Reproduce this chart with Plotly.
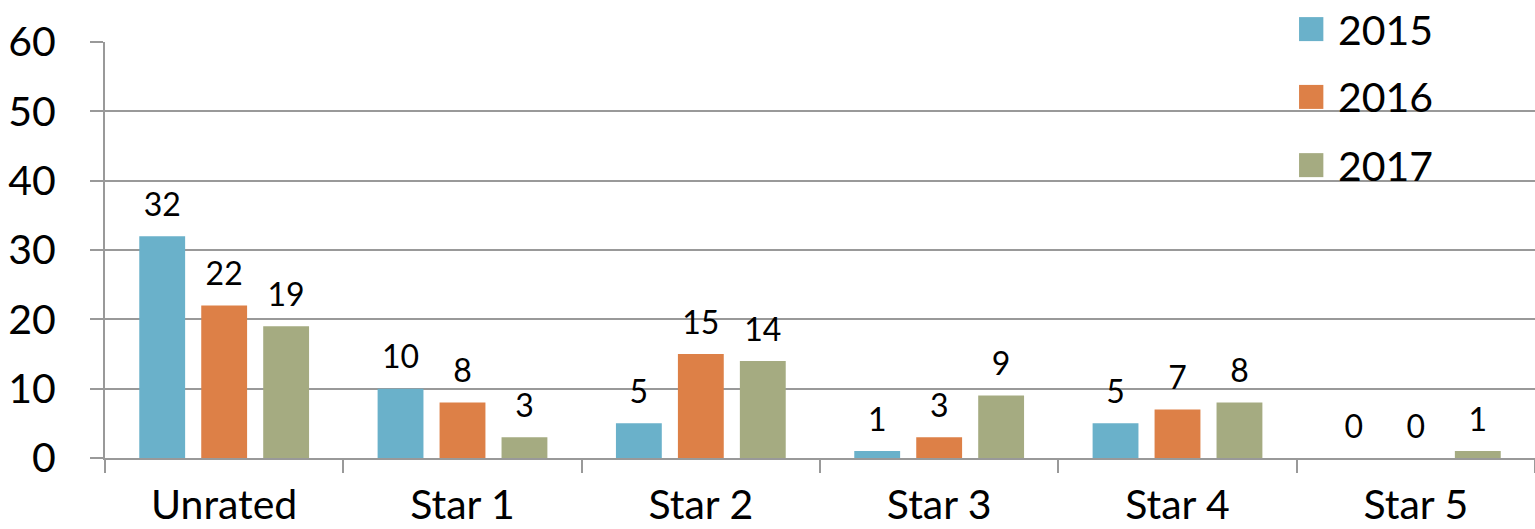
import plotly.graph_objects as go

# Ratings per category, by year
categories = ["Unrated", "Star 1", "Star 2", "Star 3", "Star 4", "Star 5"]
years = ["2015", "2016", "2017"]
values_2015 = [32, 10, 5, 1, 5, 0]
values_2016 = [22, 8, 15, 3, 7, 0]
values_2017 = [19, 3, 14, 9, 8, 1]
series = [values_2015, values_2016, values_2017]
colors = ["#6AB1CA", "#DD8047", "#A5AB81"]
y_ticks = [0, 10, 20, 30, 40, 50, 60]

FONT = "Lato, 'DejaVu Sans', sans-serif"
GRID = "#999999"

fig = go.Figure()

for name, vals, col in zip(years, series, colors):
    fig.add_trace(go.Bar(
        x=categories, y=vals, name=name,
        marker=dict(color=col, line=dict(width=0)),
        offsetgroup=name, alignmentgroup="g",
        showlegend=False, hoverinfo="skip",
    ))

# value labels above each bar, aligned with the bar groups
for name, vals in zip(years, series):
    fig.add_trace(go.Scatter(
        x=categories, y=vals, mode="markers+text",
        text=[str(v) for v in vals], textposition="top center",
        textfont=dict(size=32, color="#000000", family=FONT),
        marker=dict(size=18, opacity=0),
        offsetgroup=name, alignmentgroup="g",
        showlegend=False, hoverinfo="skip", cliponaxis=False,
    ))

# legend: large square swatches with year labels at the top right
legend_x0, legend_w = 0.835, 0.017
legend_rows = [1.031, 0.868, 0.704]
half_h = 12 / 416
for name, col, ly in zip(years, colors, legend_rows):
    fig.add_shape(type="rect", xref="paper", yref="paper",
                  x0=legend_x0, x1=legend_x0 + legend_w,
                  y0=ly - half_h, y1=ly + half_h,
                  fillcolor=col, line=dict(width=0), layer="above")
    fig.add_annotation(xref="paper", yref="paper", x=0.861, y=ly,
                       text=name, showarrow=False, xanchor="left", yanchor="middle",
                       font=dict(size=41, color="#000000", family=FONT))

fig.update_layout(
    width=1535, height=529,
    margin=dict(l=105, r=0, t=42, b=71, autoexpand=False),
    paper_bgcolor="white", plot_bgcolor="white",
    barmode="group", bargap=0.22, bargroupgap=0.26,
    scattermode="group", scattergap=0.22,
    font=dict(family=FONT, color="#000000"),
    showlegend=False,
)
fig.update_yaxes(
    range=[0, 60], tickvals=y_ticks, ticktext=[str(t) for t in y_ticks],
    showgrid=True, gridcolor=GRID, gridwidth=2,
    showline=True, linecolor=GRID, linewidth=2,
    ticks="outside", ticklen=13, tickcolor=GRID, tickwidth=2,
    tickfont=dict(size=41, family=FONT, color="#000000"),
    ticklabelstandoff=26, zeroline=False, fixedrange=True, automargin=False,
)
fig.update_xaxes(
    type="category", showline=True, linecolor=GRID, linewidth=2,
    ticks="outside", ticklen=13, tickcolor=GRID, tickwidth=2,
    tickson="boundaries", showgrid=False,
    tickfont=dict(size=41, family=FONT, color="#000000"),
    ticklabelstandoff=10, fixedrange=True, automargin=False,
)

fig.write_html("out.html")
